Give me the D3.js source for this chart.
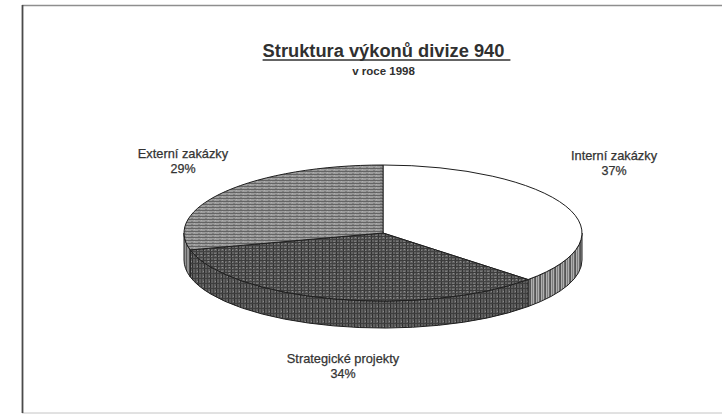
<!DOCTYPE html>
<html>
<head>
<meta charset="utf-8">
<script src="https://cdn.jsdelivr.net/npm/d3@7"></script>
<style>
  html, body { margin: 0; padding: 0; background: #ffffff; }
  svg { display: block; }
  text { font-family: "Liberation Sans", Arial, sans-serif; }
</style>
</head>
<body>
<svg id="chart" width="722" height="415"></svg>
<script>
// ---- data ----
const categories = ["Interní zakázky", "Strategické projekty", "Externí zakázky"];
const values = [37, 34, 29];
const valueLabels = ["37%", "34%", "29%"];
const title = "Struktura výkonů divize 940";
const subtitle = "v roce 1998";

// ---- layout ----
const W = 722, H = 415;
const cx = 383, cy = 233, rx = 199, ry = 68, depth = 27;

const svg = d3.select("#chart");
const defs = svg.append("defs");

// texture patterns imitating the printed hatching
function pattern(id, w, h, base, parts) {
  const p = defs.append("pattern").attr("id", id)
    .attr("patternUnits", "userSpaceOnUse").attr("width", w).attr("height", h);
  p.append("rect").attr("width", w).attr("height", h).attr("fill", base);
  parts.forEach(d => p.append("rect").attr("x", d[0]).attr("y", d[1])
    .attr("width", d[2]).attr("height", d[3]).attr("fill", d[4]));
}
pattern("extTop", 7, 3, "#9c9c9c", [[0, 0, 7, 1, "#646464"], [2, 2, 2, 1, "#808080"], [5, 1, 1, 1, "#b0b0b0"]]);
pattern("stratTop", 7, 6, "#626262", [
  [0, 0, 1, 6, "#343434"], [3, 0, 1, 6, "#484848"], [0, 2, 7, 1, "#3c3c3c"],
  [0, 5, 7, 1, "#424242"], [5, 3, 1, 1, "#909090"], [1, 4, 1, 1, "#858585"], [4, 1, 2, 1, "#7a7a7a"]]);
pattern("intSide", 5, 4, "#b0b0b0", [[0, 0, 1, 4, "#555"], [2, 0, 1, 4, "#7e7e7e"], [4, 0, 1, 4, "#686868"]]);
pattern("stratSide", 6, 5, "#5e5e5e", [
  [0, 0, 1, 5, "#303030"], [3, 0, 1, 5, "#444"], [0, 3, 6, 1, "#3e3e3e"], [5, 1, 1, 1, "#8a8a8a"]]);
pattern("extSide", 3, 4, "#949494", [[0, 0, 1, 4, "#5a5a5a"]]);

const topFill = ["#ffffff", "url(#stratTop)", "url(#extTop)"];
const sideFill = ["url(#intSide)", "url(#stratSide)", "url(#extSide)"];

// ---- frame ----
svg.append("line").attr("x1", 22).attr("y1", 5.5).attr("x2", W).attr("y2", 5.5)
  .attr("stroke", "#8e8e8e").attr("stroke-width", 1.3);
svg.append("line").attr("x1", 22).attr("y1", 413).attr("x2", W).attr("y2", 413)
  .attr("stroke", "#c4c4c4").attr("stroke-width", 1);
svg.append("line").attr("x1", 22.5).attr("y1", 5).attr("x2", 22.5).attr("y2", 413)
  .attr("stroke", "#4a4a4a").attr("stroke-width", 1.8);

// ---- title ----
const t = svg.append("text").attr("x", 383.5).attr("y", 57)
  .attr("text-anchor", "middle").attr("font-size", 18.3).attr("font-weight", "bold")
  .attr("fill", "#303030").text(title);
const bb = t.node().getBBox();
svg.append("line").attr("x1", bb.x).attr("x2", bb.x + bb.width + 6)
  .attr("y1", 60).attr("y2", 60).attr("stroke", "#303030").attr("stroke-width", 1.4);
svg.append("text").attr("x", 383.5).attr("y", 75)
  .attr("text-anchor", "middle").attr("font-size", 11.5).attr("font-weight", "bold")
  .attr("fill", "#303030").text(subtitle);

// ---- 3D pie ----
const pie = d3.pie().sort(null).startAngle(0).endAngle(2 * Math.PI);
const arcs = pie(values);

const pt = (a, dy = 0) => [cx + rx * Math.sin(a), cy - ry * Math.cos(a) + dy];

// sides (front half only: angles between PI/2 and 3PI/2)
const g = svg.append("g");
arcs.forEach((d, i) => {
  const s = Math.max(d.startAngle, Math.PI / 2);
  const e = Math.min(d.endAngle, 3 * Math.PI / 2);
  if (e <= s) return;
  const p0 = pt(s), p1 = pt(e), q1 = pt(e, depth), q0 = pt(s, depth);
  const large = (e - s) > Math.PI ? 1 : 0;
  const path = `M${p0}A${rx},${ry} 0 ${large} 1 ${p1}L${q1}A${rx},${ry} 0 ${large} 0 ${q0}Z`;
  g.append("path").attr("d", path).attr("fill", sideFill[i])
    .attr("stroke", "#1e1e1e").attr("stroke-width", 1).attr("stroke-linejoin", "round");
});

// tops
arcs.forEach((d, i) => {
  const p0 = pt(d.startAngle), p1 = pt(d.endAngle);
  const large = (d.endAngle - d.startAngle) > Math.PI ? 1 : 0;
  const path = `M${cx},${cy}L${p0}A${rx},${ry} 0 ${large} 1 ${p1}Z`;
  g.append("path").attr("d", path).attr("fill", topFill[i])
    .attr("stroke", "#1e1e1e").attr("stroke-width", 1).attr("stroke-linejoin", "round");
});

// ---- labels ----
const labelPos = [[614, 160], [343, 363], [183, 158]];
arcs.forEach((d, i) => {
  const lg = svg.append("text").attr("text-anchor", "middle")
    .attr("font-size", 12.8).attr("fill", "#333")
    .attr("stroke", "#333").attr("stroke-width", 0.25);
  lg.append("tspan").attr("x", labelPos[i][0]).attr("y", labelPos[i][1]).text(categories[i]);
  lg.append("tspan").attr("x", labelPos[i][0]).attr("dy", 14.5).attr("font-size", 12.5).text(valueLabels[i]);
});
</script>
</body>
</html>
